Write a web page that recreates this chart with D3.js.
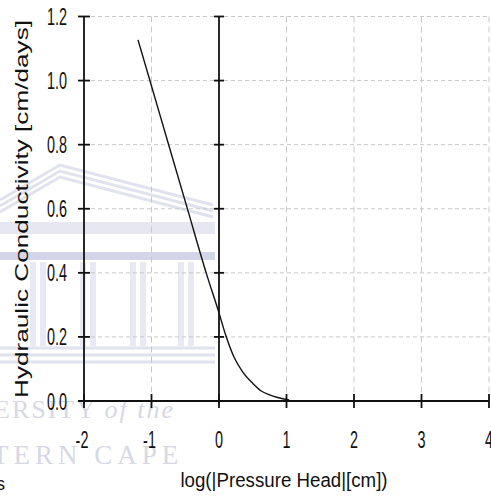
<!DOCTYPE html>
<html><head><meta charset="utf-8">
<script src="https://cdn.jsdelivr.net/npm/d3@7"></script>
<style>html,body{margin:0;padding:0;background:#fff;}svg{display:block;}</style>
</head><body><svg id="c" width="491" height="501"></svg>
<script>
// data
const logH = [-1.2, -1.0, -0.76, -0.46, -0.19, 0.0, 0.10, 0.22, 0.35, 0.50, 0.62, 0.75, 0.87, 1.04];
const K    = [1.127, 0.983, 0.81, 0.594, 0.40, 0.275, 0.205, 0.138, 0.091, 0.055, 0.032, 0.019, 0.011, 0.003];
const xTicks = [-2, -1, 0, 1, 2, 3, 4];
const yTicks = [0.0, 0.2, 0.4, 0.6, 0.8, 1.0, 1.2];
const xTitle = "log(|Pressure Head|[cm])";
const yTitle = "Hydraulic Conductivity [cm/days]";

const svg = d3.select("#c");
const x = d3.scaleLinear().domain([-2, 4]).range([84, 489]);
const y = d3.scaleLinear().domain([0, 1.2]).range([401, 16.5]);
const font = "'Liberation Sans', Arial, sans-serif";

// watermark (faint)
const wm = svg.append("g").attr("fill", "none").attr("stroke", "#e0e2ee");
[0, 6, 12].forEach(o => {
  wm.append("polyline").attr("stroke-width", 3)
    .attr("points", `0,${200 + o} 60,${165 + o} 213,${205 + o}`);
});
wm.append("rect").attr("x", 0).attr("y", 222).attr("width", 215).attr("height", 12)
  .attr("fill", "#e6e7f1").attr("stroke", "none");
wm.append("rect").attr("x", 0).attr("y", 252).attr("width", 215).attr("height", 8)
  .attr("fill", "#d3d6e8").attr("stroke", "none");
[30, 80, 130, 178].forEach(cx => {
  wm.append("rect").attr("x", cx).attr("y", 262).attr("width", 6).attr("height", 84).attr("fill", "#e8e9f2").attr("stroke", "none");
  wm.append("rect").attr("x", cx + 10).attr("y", 262).attr("width", 6).attr("height", 84).attr("fill", "#e8e9f2").attr("stroke", "none");
});
[348, 355, 362].forEach(yy => {
  wm.append("line").attr("x1", 0).attr("x2", 215).attr("y1", yy).attr("y2", yy).attr("stroke-width", 3);
});
svg.append("text").attr("x", -6).attr("y", 418).attr("font-family", "'Liberation Serif', serif")
  .attr("font-size", 26).attr("fill", "#d6d8e4").attr("letter-spacing", 2)
  .html("ERSITY <tspan font-style='italic'>of the</tspan>");
svg.append("text").attr("x", -8).attr("y", 464).attr("font-family", "'Liberation Serif', serif")
  .attr("font-size", 27).attr("fill", "#d6d8e4").attr("letter-spacing", 5)
  .text("TERN CAPE");

// grid
const grid = svg.append("g").attr("stroke", "#c8c8c8").attr("stroke-width", 1);
yTicks.filter(v => v > 0).forEach(v => {
  grid.append("line").attr("x1", x(-2)).attr("x2", x(4)).attr("y1", y(v)).attr("y2", y(v))
    .attr("stroke-dasharray", "4,3");
});
xTicks.filter(v => v !== -2 && v !== 0).forEach(v => {
  grid.append("line").attr("x1", x(v)).attr("x2", x(v)).attr("y1", y(1.2)).attr("y2", y(0))
    .attr("stroke-dasharray", "6,4");
});

// axes
const ax = svg.append("g").attr("stroke", "#111").attr("stroke-width", 1.8);
ax.append("line").attr("x1", x(-2)).attr("x2", x(-2)).attr("y1", y(1.2)).attr("y2", y(0) + 3);
ax.append("line").attr("x1", x(0)).attr("x2", x(0)).attr("y1", y(1.2)).attr("y2", y(0) + 3);
ax.append("line").attr("x1", x(-2) - 6).attr("x2", x(4)).attr("y1", y(0)).attr("y2", y(0));
yTicks.forEach(v => {
  ax.append("line").attr("x1", x(-2) - 6).attr("x2", x(-2) + 6).attr("y1", y(v)).attr("y2", y(v));
  ax.append("line").attr("x1", x(0) - 5).attr("x2", x(0) + 5).attr("y1", y(v)).attr("y2", y(v));
});
xTicks.forEach(v => {
  ax.append("line").attr("x1", x(v)).attr("x2", x(v)).attr("y1", y(0) - 7).attr("y2", y(0) + 7);
});

// tick labels
yTicks.forEach(v => {
  svg.append("text").attr("transform", `translate(67,${y(v) + 8.5}) scale(0.6,1)`)
    .attr("text-anchor", "end").attr("font-family", font).attr("font-size", 24).attr("fill", "#111")
    .text(v.toFixed(1));
});
xTicks.forEach(v => {
  svg.append("text").attr("transform", `translate(${x(v) - (v < 0 ? 2 : 0)},${447.5}) scale(0.6,1)`)
    .attr("text-anchor", "middle").attr("font-family", font).attr("font-size", 24).attr("fill", "#111")
    .text(v < 0 ? "-" + Math.abs(v) : String(v));
});

// titles
svg.append("text").attr("transform", "translate(284,487) scale(0.8,1)").attr("text-anchor", "middle")
  .attr("font-family", font).attr("font-size", 20).attr("fill", "#111")
  .attr("textLength", 259).attr("lengthAdjust", "spacingAndGlyphs").text(xTitle);
svg.append("text").attr("transform", "translate(28,209) rotate(-90)").attr("text-anchor", "middle")
  .attr("font-family", font).attr("font-size", 18).attr("fill", "#111")
  .attr("textLength", 378).attr("lengthAdjust", "spacingAndGlyphs").text(yTitle);
svg.append("text").attr("x", -4).attr("y", 490).attr("font-family", font).attr("font-size", 18)
  .attr("fill", "#111").text("s");

// curve
const pts = logH.map((v, i) => [v, K[i]]);
svg.append("path").datum(pts).attr("fill", "none").attr("stroke", "#111").attr("stroke-width", 1.4)
  .attr("d", d3.line().x(d => x(d[0])).y(d => y(d[1])).curve(d3.curveMonotoneX));
</script></body></html>
